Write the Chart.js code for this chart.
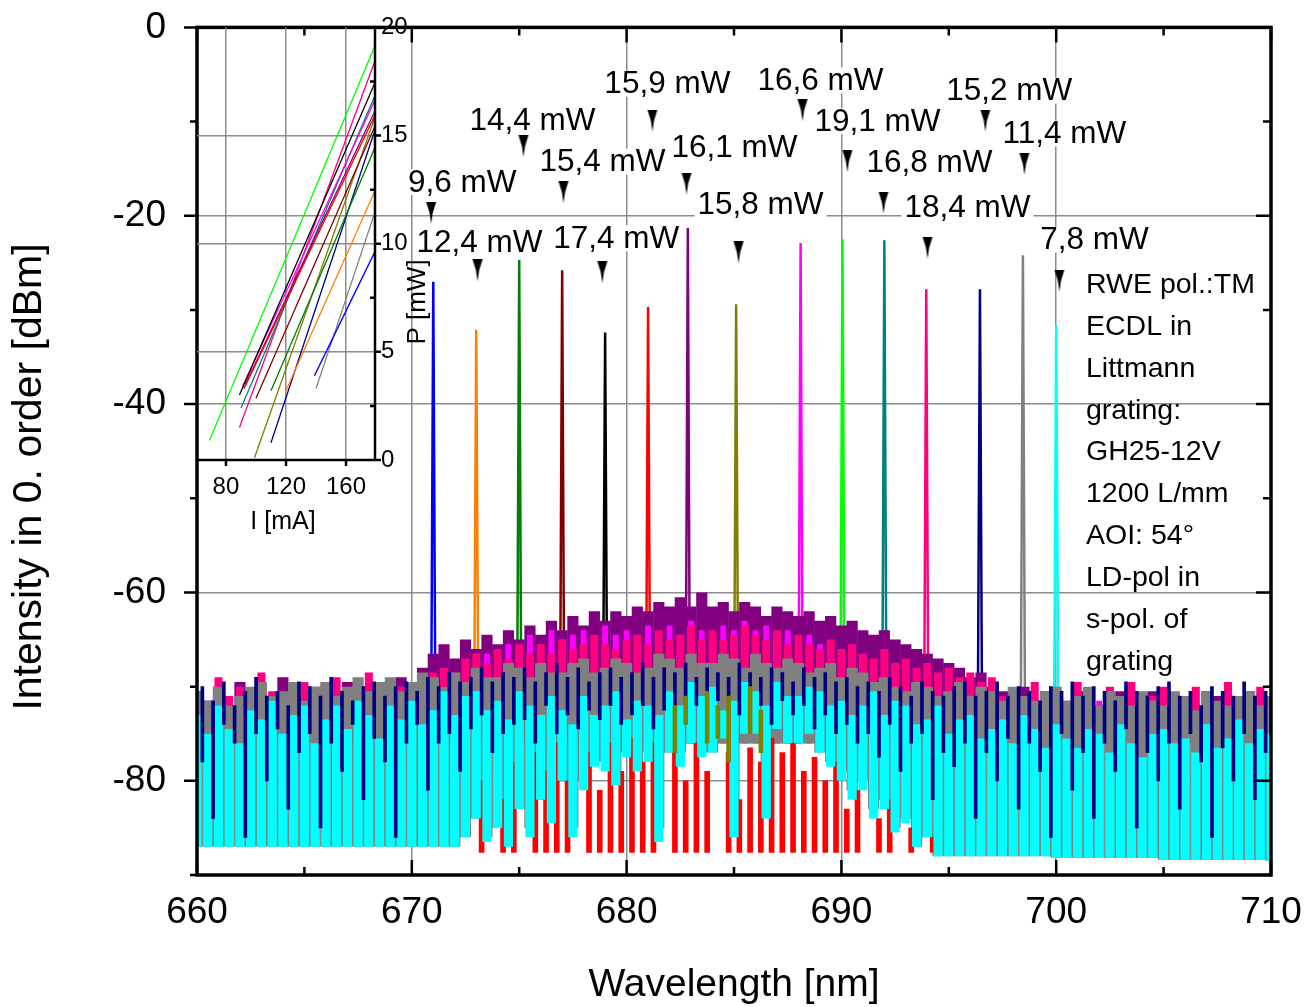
<!DOCTYPE html>
<html>
<head>
<meta charset="utf-8">
<title>ECDL tuning spectra</title>
<script src="https://cdn.jsdelivr.net/npm/chart.js@4.4.1/dist/chart.umd.min.js"></script>
<style>
  html, body { margin: 0; padding: 0; background: #ffffff; }
  #stage { position: relative; width: 1305px; height: 1007px; }
  #stage canvas { position: absolute; left: 0; top: 0; }
</style>
</head>
<body>
<div id="stage">
  <canvas id="spectra" width="1305" height="1007"></canvas>
  <canvas id="liCurves" width="1305" height="1007"></canvas>
</div>
<script>
// ---------------- data ----------------
// laser lines: centre wavelength [nm], peak intensity [dBm], max. output power [mW]
const lineNm  = [671.0, 673.0, 675.0, 677.0, 679.0, 681.0, 682.85, 685.1, 688.1, 690.05, 692.0, 693.95, 696.45, 698.45, 700.0];
const lineDbm = [-27.0, -32.1, -24.7, -25.8, -32.4, -29.7, -21.3, -29.4, -22.9, -22.5, -22.6, -27.8, -27.8, -24.2, -31.6];
const powerMw = [9.6, 12.4, 14.4, 15.4, 17.4, 15.9, 16.1, 15.8, 16.6, 19.1, 16.8, 18.4, 15.2, 11.4, 7.8];
const lineColors = ['#0000ff', '#ff8000', '#008000', '#800000', '#000000', '#ff0000', '#800080', '#808000',
                    '#ff00ff', '#00ff00', '#008080', '#ff0080', '#000080', '#808080', '#00ffff'];

// arrow markers above the lines
const arrowNm  = [670.90, 673.06, 675.20, 677.06, 678.87, 681.20, 682.79, 685.21, 688.19, 690.28, 691.96, 694.01, 696.70, 698.52, 700.15];
const arrowDbm = [-19.7, -25.8, -12.6, -17.5, -26.0, -9.9, -16.6, -23.9, -8.8, -14.2, -18.6, -23.4, -9.9, -14.5, -26.9];

// tick labels
const xTicks = [660, 670, 680, 690, 700, 710];
const yTicks = [0, -20, -40, -60, -80];
const iTicks = [80, 120, 160];
const pTicks = [0, 5, 10, 15, 20];

// noise floor traces, one sample every 0.5 nm starting at 660 nm (101 samples)
const cyanTop = [
  -73, -75, -72, -74.5, -76, -72.5, -73.5, -71.5, -75, -73,
  -72, -76, -73.5, -72, -74.5, -71.5, -73, -75.5, -72, -73.5,
  -71.5, -74, -72.5, -70.5, -73, -71, -70.5, -72.5, -71.5, -73.5,
  -70.5, -72, -73, -71, -72.5, -74, -71, -73, -72, -70.5,
  -73.5, -71.5, -72, -73, -70.5, -72, -69.5, -71, -70, -72.5,
  -71.5, -69.5, -70.5, -72, -69.5, -71, -71, -70, -70.5, -72,
  -71.5, -73, -72, -70.5, -73, -71.5, -72, -74, -73.5, -72,
  -75, -73.5, -73, -75.5, -74.5, -73.5, -76, -73, -74.5, -76.5,
  -74, -75.5, -76.5, -74.5, -75, -77, -74, -76, -77.5, -75,
  -74.5, -76, -75.5, -77, -74, -76.5, -75.5, -73.5, -76, -74.5,
  -75];
const cyanLow = [
  -87, -87, -87, -87, -87, -87, -87, -87, -87, -87,
  -87, -87, -87, -87, -87, -87, -87, -87, -87, -87,
  -87, -87, -87, -87, -87, -86, -84, -86.5, -85, -87,
  -83, -86, -82, -84.5, -80, -86, -81, -78.5, -79, -80.5,
  -77.5, -79, -78, -86.5, -77, -78.5, -76, -77.5, -77, -75.5,
  -86, -75, -75, -84, -74.5, -76, -76, -75, -77, -78.5,
  -80, -82, -81, -84, -83, -85.5, -84.5, -87, -86, -88,
  -88, -88, -88, -88, -88, -88, -88, -88, -88, -88,
  -88.2, -88.2, -88.2, -88.2, -88.2, -88.2, -88.2, -88.2, -88.2, -88.2,
  -88.4, -88.4, -88.4, -88.4, -88.4, -88.4, -88.4, -88.4, -88.4, -88.4,
  -88.5];
const grayTop = [
  -70.5, -71.5, -70, -72, -71, -70, -69.5, -71, -70.5, -69.5,
  -71.5, -70, -69.5, -71, -70, -69, -70.5, -69.5, -69, -70.5,
  -69.5, -68.5, -69, -70, -68.5, -69.5, -68, -69, -69, -67.5,
  -68, -69, -67.5, -68.5, -68.5, -67.5, -67, -68.5, -68, -67,
  -67.5, -68.5, -68, -66.5, -67, -68, -66.5, -67.5, -67.5, -66.5,
  -67, -68, -66.5, -67.5, -68, -67, -67.5, -68.5, -68, -67.5,
  -69, -68, -68.5, -69.5, -69, -70, -70.5, -69.5, -70, -71,
  -70.5, -69.5, -71, -70, -70.5, -71.5, -70, -71, -71.5, -70.5,
  -70, -71.5, -71, -70, -72, -70.5, -71, -72, -70.5, -71.5,
  -72, -70.5, -71, -72.5, -70.5, -71.5, -72, -71, -70.5, -72,
  -71];
const grayLow = [
  -87, -87, -87, -87, -87, -87, -87, -87, -87, -87,
  -87, -87, -87, -87, -87, -87, -87, -87, -87, -87,
  -87, -87, -87, -87, -87, -86, -84, -86, -85, -86,
  -83, -85, -82, -84, -80, -85, -80, -78, -78, -79,
  -77, -78, -77, -85, -77, -77, -76, -77, -77, -76,
  -85, -76, -76, -83, -76, -76, -76, -76, -77, -78,
  -79, -81, -80, -83, -82, -85, -84, -87, -86, -88,
  -88, -88, -88, -88, -88, -88, -88, -88, -88, -88,
  -88.2, -88.2, -88.2, -88.2, -88.2, -88.2, -88.2, -88.2, -88.2, -88.2,
  -88.4, -88.4, -88.4, -88.4, -88.4, -88.4, -88.4, -88.4, -88.4, -88.4,
  -88.5];
const pinkTop = [
  -70.5, -71.5, -69, -71, -70, -71.5, -68.5, -70.5, -71, -70,
  -69.5, -71, -70.5, -69, -71, -70, -68.5, -70.5, -69.5, -70,
  -69.5, -70, -68.5, -68, -69, -67, -66.5, -67.5, -66, -67,
  -65.5, -66.5, -65.5, -66.5, -65, -66, -65.5, -64.5, -65.5, -66,
  -65, -64.5, -65.5, -64, -65, -64.5, -63.5, -65, -64, -65,
  -64.5, -63.5, -64.5, -65, -64, -65.5, -64.5, -65.5, -66, -65,
  -66, -65.5, -66.5, -67, -66, -67.5, -67, -68, -67.5, -68.5,
  -68, -69, -68.5, -69.5, -69, -71, -70.5, -71, -69.5, -71.5,
  -70.5, -71.5, -69.5, -71, -72, -70, -71.5, -69.5, -72, -71,
  -70, -72, -71, -70, -71.5, -72, -69.5, -71, -71.5, -70,
  -71];
const magentaTop = [
  -71, -72, -70.5, -71.5, -72, -71, -70.5, -72, -71.5, -70.5,
  -71, -72, -70.5, -71, -72, -70.5, -71, -70.5, -71.5, -70,
  -70.5, -69.5, -70, -69, -68.5, -68, -67.5, -66.5, -67, -65.5,
  -66.5, -64.5, -65.5, -64, -65, -64.5, -64, -65, -63.5, -64.5,
  -64, -65, -63.5, -64.5, -63.5, -64.5, -63, -64, -64.5, -63.5,
  -64, -63, -64, -63.5, -64.5, -64, -65, -64.5, -65.5, -66,
  -66.5, -67, -67.5, -68, -68.5, -69, -69.5, -70, -70.5, -70,
  -71, -70.5, -71, -71.5, -71, -72, -71, -71.5, -72, -71,
  -71.5, -72, -71, -72.5, -71.5, -72, -71, -72.5, -72, -71.5,
  -72, -71, -72.5, -72, -71.5, -72, -71, -72.5, -72, -71.5,
  -72];
const purpleTop = [
  -70.5, -71.5, -70, -72, -69.5, -71, -70.5, -71.5, -69, -70.5,
  -71, -70, -71.5, -70.5, -69.5, -70, -71, -69.5, -70, -69,
  -69.5, -68, -66.5, -65.5, -67, -65, -66, -64.5, -65.5, -64,
  -65, -63.5, -64.5, -63, -64, -62.5, -63.5, -62, -63, -62,
  -62.5, -61.5, -62, -61, -61.5, -60.5, -61.5, -60, -61.5, -61,
  -62, -61, -61.5, -62.5, -61.5, -62, -62.5, -62, -63, -62.5,
  -63.5, -63, -64, -64.5, -64, -65, -65.5, -66, -66.5, -67,
  -67.5, -68, -69, -68.5, -70, -70.5, -71, -70, -71.5, -70.5,
  -71, -72, -70.5, -71.5, -72, -71, -70.5, -72, -71.5, -70.5,
  -72, -71, -71.5, -72, -70.5, -71, -72, -71.5, -70.5, -71,
  -72];
const bandFloor = -76;

// navy trace on the half-step grid (660.25 nm + 0.5 nm steps, 100 samples)
const navyTop = [
  -70, -71.5, -69.5, -72, -70.5, -69, -71, -70.5, -72, -69.5,
  -70, -71, -69, -70.5, -71.5, -70, -69.5, -71, -70, -69.5,
  -70.5, -69, -70, -68.5, -69.5, -69, -68, -69.5, -68.5, -69,
  -68, -69.5, -68.5, -67.5, -69, -68, -69.5, -68.5, -68, -69,
  -68.5, -67.5, -69, -68, -68.5, -67.5, -69, -68, -68.5, -69,
  -67.5, -68.5, -69, -68, -68.5, -69.5, -68, -69, -68.5, -69.5,
  -69, -70, -69.5, -70.5, -69, -70, -71, -69.5, -70.5, -71,
  -70, -69.5, -71, -70.5, -69.5, -71, -70, -70.5, -71.5, -70,
  -70.5, -69.5, -71, -70, -70.5, -71.5, -69.5, -70.5, -71, -70,
  -69.5, -71, -70.5, -72, -70, -70.5, -71, -69.5, -71, -70.5];
const navyLow = [
  -78, -84, -74, -76, -86, -75, -80, -74.5, -83, -77,
  -75, -85, -76, -79, -74, -82, -75.5, -78, -86, -76,
  -74, -81, -76, -75, -79, -74.5, -73, -77, -75, -74,
  -73.5, -76, -72, -75, -73, -74.5, -72.5, -73.5, -72, -74,
  -73, -72, -74.5, -72.5, -73, -71.5, -72, -73.5, -71.5, -72.5,
  -73, -71.5, -72, -74, -71.5, -73, -72, -74.5, -73, -75,
  -74, -76, -75, -77.5, -74, -79, -76, -75, -82, -77,
  -78.5, -76, -84, -77, -80, -75.5, -83, -76, -79, -86,
  -75, -81, -77, -84, -76, -79, -74.5, -85, -77, -80,
  -76, -83, -75, -78, -86, -76.5, -80, -75, -82, -77];

// red trace dips below the floor band in the centre of the tuning range
const redNm  = [673.25, 674.25, 674.75, 675.75, 676.25, 676.75, 677.25, 678.25, 678.75, 679.25, 679.75, 680.25,
                680.75, 681.25, 682.25, 682.75, 683.25, 683.75, 684.75, 685.25, 685.75, 686.25, 686.75, 687.25,
                687.75, 688.25, 688.75, 689.25, 689.75, 690.25, 690.75, 691.75, 692.25, 693.25, 694.25];
const redTop = [-80, -82, -78, -77, -79, -76, -80, -77, -81, -76, -79, -75.5,
                -78, -76, -77, -80, -76, -79, -77, -82, -76.5, -78, -75.5, -77,
                -76, -79, -77.5, -80, -78, -83, -81, -84, -82, -85, -86];
const redFloor = -87.6;

// olive trace in the centre
const oliveNm  = [682.25, 682.75, 683.75, 684.25, 684.75, 685.75, 686.25];
const oliveTop = [-72, -71, -70.5, -72, -71, -70, -72.5];
const oliveLow = [-77, -74, -76, -75.5, -78, -75, -77];

// inset: P-I curves (threshold end point and end point at max. current); cyan curve not shown
const liStartMa = [139, 120, 110, 100, 89, 92, 93, 99, 91, 69, 90, 89, 110, 140, null];
const liStartMw = [3.9, 3.2, 3.2, 2.85, 3.0, 3.3, 3.5, 0.1, 3.4, 0.9, 2.4, 1.5, 0.8, 3.3, null];
const liEndMa = 179;

// text block on the right
const noteLines = ['RWE pol.:TM', 'ECDL in', 'Littmann', 'grating:', 'GH25-12V', '1200 L/mm', 'AOI: 54°', 'LD-pol in', 's-pol. of', 'grating'];

// ---------------- layout / style ----------------
const FONT = '"Liberation Sans", Arial, Helvetica, sans-serif';
const W = 1305, H = 1007;
const AREA = {left: 197, top: 27.4, right: 1271, bottom: 875};
const INSET = {right: 375, bottom: 460};
const GRID = '#8c8c8c';
const LINE_FOOT = -74;
const labelDx = [31, 2, 9, 39, 14, 15, 48, 22, 18, 30, 46, 40, 24, 40, 35];
const labelDy = [-31, -28, -25.5, -30.5, -34, -37, -36, -48.5, -30, -40, -40.5, -40.5, -30, -30.5, -41];

// arrow marker glyph
const arrowImg = document.createElement('canvas');
arrowImg.width = 12; arrowImg.height = 22;
(function () {
  const g = arrowImg.getContext('2d');
  g.fillStyle = '#000';
  g.beginPath();
  g.moveTo(1, 0); g.lineTo(11, 0); g.lineTo(7.6, 11); g.lineTo(6, 22); g.lineTo(4.4, 11);
  g.closePath(); g.fill();
})();

// ---------------- datasets ----------------
function gridPoints(start, tops, lows) {
  const pts = [];
  tops.forEach((t, i) => {
    if (t === null) return;
    pts.push({x: start + 0.5 * i, y: [Array.isArray(lows) ? lows[i] : lows, t]});
  });
  return pts;
}
function listPoints(nms, tops, lows) {
  return nms.map((nm, i) => ({x: nm, y: [Array.isArray(lows) ? lows[i] : lows, tops[i]]}));
}
function band(data, color, axis, widthFrac, maxW, order) {
  return {type: 'bar', data, xAxisID: axis, yAxisID: 'y', backgroundColor: color, borderWidth: 0,
          grouped: false, barPercentage: 1, categoryPercentage: widthFrac,
          maxBarThickness: maxW, order};
}

const spectraSets = [];
// laser lines (their feet vanish in the noise drawn above them)
lineNm.forEach((nm, k) => {
  spectraSets.push({
    type: 'line', xAxisID: 'x', yAxisID: 'y',
    data: [{x: nm - 0.1, y: LINE_FOOT}, {x: nm, y: lineDbm[k]}, {x: nm + 0.1, y: LINE_FOOT}],
    borderColor: lineColors[k], borderWidth: 2.5, pointRadius: 0, tension: 0, order: 100 + k
  });
});
spectraSets.push(band(gridPoints(660, purpleTop, bandFloor), '#800080', 'x', 1.04, undefined, 90));
spectraSets.push(band(gridPoints(660, magentaTop, bandFloor), '#ff00ff', 'x', 0.55, undefined, 89));
spectraSets.push(band(gridPoints(660, pinkTop, bandFloor), '#ff0080', 'x', 0.75, undefined, 88));
spectraSets.push(band(gridPoints(660, grayTop, grayLow), '#808080', 'x', 1.04, undefined, 87));
spectraSets.push(band(listPoints(redNm, redTop, redFloor), '#ff0000', 'xo', 1, 5, 86));
spectraSets.push(band(gridPoints(660, cyanTop, cyanLow), '#00ffff', 'x', 0.86, undefined, 85));
spectraSets.push(band(gridPoints(660.25, navyTop, navyLow), '#000080', 'xo', 1, 3, 84));
spectraSets.push(band(listPoints(oliveNm, oliveTop, oliveLow), '#808000', 'xo', 1, 4, 83));
spectraSets.push({
  type: 'line', showLine: false, xAxisID: 'x', yAxisID: 'y',
  data: arrowNm.map((nm, k) => ({x: nm, y: arrowDbm[k]})),
  pointStyle: arrowImg, pointRadius: 5, order: 0
});

const liSets = [];
lineColors.forEach((c, k) => {
  if (liStartMa[k] === null) return;
  liSets.push({
    type: 'line',
    data: [{x: liStartMa[k], y: liStartMw[k]}, {x: liEndMa, y: powerMw[k]}],
    borderColor: c, borderWidth: 1.3, pointRadius: 0, tension: 0
  });
});

// ---------------- decorations ----------------
const spectraDecor = {
  id: 'spectraDecor',
  afterDatasetsDraw(chart) {
    const {ctx, chartArea: a, scales: {x, y}} = chart;
    ctx.save();
    // power labels
    ctx.font = `31.5px ${FONT}`;
    ctx.textAlign = 'center';
    ctx.textBaseline = 'middle';
    powerMw.forEach((p, k) => {
      const txt = p.toFixed(1).replace('.', ',') + ' mW';
      const cx = x.getPixelForValue(arrowNm[k]) + labelDx[k];
      const cy = y.getPixelForValue(arrowDbm[k]) + labelDy[k];
      const w = ctx.measureText(txt).width;
      ctx.fillStyle = '#ffffff';
      ctx.fillRect(cx - w / 2 - 3, cy - 13, w + 6, 26);
      ctx.fillStyle = '#000000';
      ctx.fillText(txt, cx, cy + 1);
    });
    // setup note
    ctx.textAlign = 'left';
    ctx.font = `28.5px ${FONT}`;
    noteLines.forEach((t, k) => ctx.fillText(t, 1086, 285 + 41.9 * k));

    // frame
    ctx.strokeStyle = '#000';
    ctx.lineWidth = 3.5;
    ctx.strokeRect(a.left, a.top, a.right - a.left, a.bottom - a.top);
    // tick marks
    ctx.lineWidth = 2.5;
    ctx.beginPath();
    for (let v = 660; v <= 710; v += 5) {
      const len = v % 10 === 0 ? 15 : 8;
      const px = x.getPixelForValue(v);
      ctx.moveTo(px, a.bottom); ctx.lineTo(px, a.bottom - len);
      ctx.moveTo(px, a.top); ctx.lineTo(px, a.top + len);
    }
    for (let v = 0; v >= -90; v -= 10) {
      const major = v % 20 === 0;
      const py = y.getPixelForValue(v);
      ctx.moveTo(a.left, py); ctx.lineTo(a.left - (major ? 13 : 7), py);
      ctx.moveTo(a.right, py); ctx.lineTo(a.right - (major ? 15 : 8), py);
    }
    ctx.stroke();

    // tick labels
    ctx.fillStyle = '#000';
    ctx.font = `37px ${FONT}`;
    ctx.textAlign = 'center';
    xTicks.forEach(v => ctx.fillText(String(v), x.getPixelForValue(v), 913));
    ctx.textAlign = 'right';
    yTicks.forEach(v => ctx.fillText(String(v), 166, y.getPixelForValue(v)));

    // axis titles
    ctx.textAlign = 'center';
    ctx.font = `39px ${FONT}`;
    ctx.fillText('Wavelength [nm]', (a.left + a.right) / 2, 985);
    ctx.translate(30, 477);
    ctx.rotate(-Math.PI / 2);
    ctx.font = `41px ${FONT}`;
    ctx.fillText('Intensity in 0. order [dBm]', 0, 0);
    ctx.restore();
  }
};

const liDecor = {
  id: 'liDecor',
  afterDraw(chart) {
    const {ctx, chartArea: a, scales: {x, y}} = chart;
    ctx.save();
    ctx.strokeStyle = '#000';
    ctx.lineWidth = 2.5;
    ctx.beginPath();
    ctx.moveTo(a.left, a.bottom); ctx.lineTo(a.right + 1.2, a.bottom);
    ctx.moveTo(a.right, a.top); ctx.lineTo(a.right, a.bottom);
    for (let p = 0; p <= 20; p += 2.5) {
      const py = y.getPixelForValue(p);
      if (p % 5 === 0) { ctx.moveTo(a.right, py); ctx.lineTo(a.right + 6, py); }
      else { ctx.moveTo(a.right, py); ctx.lineTo(a.right - 5, py); }
    }
    iTicks.forEach(v => {
      const px = x.getPixelForValue(v);
      ctx.moveTo(px, a.bottom); ctx.lineTo(px, a.bottom + 6);
    });
    ctx.stroke();

    ctx.fillStyle = '#000';
    ctx.font = `24px ${FONT}`;
    ctx.textBaseline = 'middle';
    ctx.textAlign = 'center';
    iTicks.forEach(v => ctx.fillText(String(v), x.getPixelForValue(v), 487));
    ctx.textAlign = 'left';
    pTicks.forEach(v => ctx.fillText(String(v), a.right + 6, y.getPixelForValue(v)));

    ctx.textAlign = 'center';
    ctx.font = `25px ${FONT}`;
    ctx.fillText('I [mA]', 283, 522);
    ctx.translate(418, 302);
    ctx.rotate(-Math.PI / 2);
    ctx.font = `26px ${FONT}`;
    ctx.fillText('P [mW]', 0, 0);
    ctx.restore();
  }
};

// ---------------- charts ----------------
new Chart(document.getElementById('spectra'), {
  type: 'line',
  data: {datasets: spectraSets},
  options: {
    responsive: false, animation: false, events: [],
    layout: {padding: {left: 0, top: AREA.top, right: W - AREA.right, bottom: 0}},
    plugins: {legend: {display: false}, tooltip: {enabled: false}},
    scales: {
      x: {
        type: 'linear', min: 660, max: 710, offset: false,
        afterBuildTicks: s => { s.ticks = xTicks.map(v => ({value: v})); },
        afterFit: s => { s.height = H - AREA.bottom; },
        ticks: {display: false},
        grid: {color: GRID, lineWidth: 1.5, drawTicks: false, offset: false},
        border: {display: false}
      },
      xo: {type: 'linear', min: 660, max: 710, offset: false, display: false, grid: {offset: false}},
      y: {
        type: 'linear', min: -90, max: 0,
        afterBuildTicks: s => { s.ticks = yTicks.map(v => ({value: v})); },
        afterFit: s => { s.width = AREA.left; },
        ticks: {display: false},
        grid: {color: GRID, lineWidth: 1.5, drawTicks: false},
        border: {display: false}
      }
    }
  },
  plugins: [spectraDecor]
});

new Chart(document.getElementById('liCurves'), {
  type: 'line',
  data: {datasets: liSets},
  options: {
    responsive: false, animation: false, events: [],
    layout: {padding: {left: AREA.left, top: AREA.top, right: W - INSET.right - 60, bottom: H - INSET.bottom - 90}},
    plugins: {legend: {display: false}, tooltip: {enabled: false}},
    scales: {
      x: {
        type: 'linear', min: 60.7, max: 179.3,
        afterBuildTicks: s => { s.ticks = iTicks.map(v => ({value: v})); },
        afterFit: s => { s.height = 90; },
        ticks: {display: false},
        grid: {color: GRID, lineWidth: 1.5, drawTicks: false},
        border: {display: false}
      },
      y: {
        type: 'linear', position: 'right', min: 0, max: 20,
        afterBuildTicks: s => { s.ticks = pTicks.map(v => ({value: v})); },
        afterFit: s => { s.width = 60; },
        ticks: {display: false},
        grid: {color: c => (c.tick && (c.tick.value === 0 || c.tick.value === 20)) ? 'rgba(0,0,0,0)' : GRID,
               lineWidth: 1.5, drawTicks: false},
        border: {display: false}
      }
    }
  },
  plugins: [liDecor]
});
</script>
</body>
</html>
